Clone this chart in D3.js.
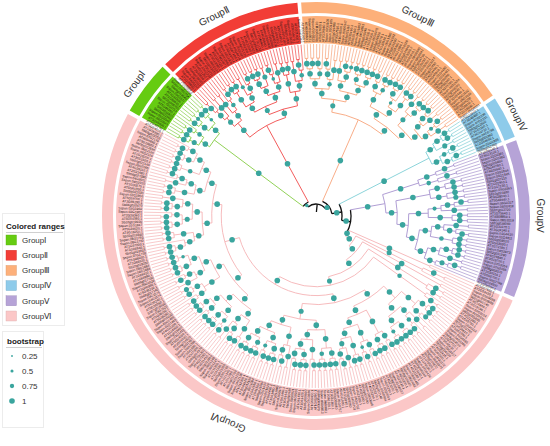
<!DOCTYPE html>
<html>
<head>
<meta charset="utf-8">
<script src="https://cdn.jsdelivr.net/npm/d3@7"></script>
<style>
  body { margin: 0; background: #fff; }
  svg { display: block; font-family: "Liberation Sans", Arial, sans-serif; }
</style>
</head>
<body>
<div id="chart"></div>
<script>
// ---- groups ----
const groupKeys = ["I", "II", "III", "IV", "V", "VI"];
const groupLabels = ["GroupⅠ", "GroupⅡ", "GroupⅢ", "GroupⅣ", "GroupⅤ", "GroupⅥ"];
const rangeColors = ["#66cc11", "#f23d36", "#fdb07a", "#8ecbea", "#b6a3d7", "#fbc7c7"];
const branchColors = ["#84cc44", "#f04a4a", "#f7a47a", "#7fcfd6", "#a793cf", "#f5b3b5"];
const labelAngles = [-54, -27, 27, 63, 90, 203];
const crownRadii = [127, 103, 105, 127, 70, 36];
const bootstrapTicks = [0.25, 0.5, 0.75, 1];

// ---- topology (Newick, "*" = next leaf name, internal label = bootstrap) ----
const backboneTree = "((I,II)0.6,(III,(IV,(V,VI)1)1)0.9)";

const groupITree = "((((*,*)1,(*,*)1)0.9,((*,*)1,*)0.8)1,(((*,*)1,(*,*)0.7)1,((*,*)1,(*,*)1)0.6)1)1";
const groupIITree = "(((((*,*)1,*)1,(*,*)1)0.9,((*,*)1,(*,(*,*)1)0.8)1)1,(((((*,*)1,(*,*)1)1,((*,*)0.7,(*,(*,*)1)1)1)1," +
  "((((*,*)1,(*,*)1)1,(*,*)0.9)1,(((*,*)1,*)0.6,(*,*)1)1)1)0.9,(((*,*)1,(*,*)1)1,((*,*)1,((*,*)1,*)0.8)1)1)1)1";
const groupIIITree = "((((((*,*)1,(*,*)1)1,((*,*)1,*)0.9)1,(((*,*)1,*)1,(*,*)1)0.8)1," +
  "(((*,*)1,((*,*)1,(*,*)0.7)1)1,(((*,*)1,(*,*)1)0.9,((*,*)1,(*,*)1)1)1)1)0.9," +
  "(((((*,*)1,*)1,((*,*)1,(*,*)1)0.8)1,((((*,*)1,(*,*)1)1,*)0.6,((*,*)1,(*,*)1)1)1)1," +
  "(((*,*)1,((*,*)1,(*,*)1)1)0.9,((((*,*)1,*)1,(*,*)1)1,(((*,*)1,*)0.7,(*,*)1)1)1)1)1)1";
const groupIVTree = "((((*,*)1,(*,*)1)1,(*,*)0.9)1,(((*,*)1,*)0.8,((*,*)1,*)1)1)1";
const groupVTree = "((((*,*)1,*)1,((*,*)1,*)0.8)1,((((*,*)1,(*,*)1)1,((*,*)1,(*,*)0.9)1)1," +
  "(((((*,*)1,*)1,(*,*)1)0.7,((*,*)1,(*,*)1)1)1,((((*,*)1,(*,(*,*)1)1)1,((*,*)1,(*,*)1)0.8)1," +
  "((((*,*)1,(*,*)1)1,(*,*)1)1,(((*,*)1,*)0.9,*)1)1)1)1)1)1";

const vi1 = "((((*,*)1,(*,*)1)1,((*,*)0.9,*)1)1,(((*,*)1,(*,(*,*)1)0.8)1,(((*,*)1,(*,*)1)1,((*,*)1,(*,*)1)0.7)1)1)1";
const vi2 = "((((*,*)1,*)1,((*,*)1,(*,*)1)1)1,((((*,*)1,*)1,((*,*)1,*)0.6)1,(((*,*)1,(*,*)1)1,((*,*)1,((*,*)1,*)1)0.9)1)1)1";
const vi3 = "((((*,*)1,(*,*)1)1,((*,*)1,(*,*)1)0.8)1,(((*,*)1,*)1,(((*,*)1,(*,*)1)1,((*,*)1,*)1)1)1)1";
const vi4 = "(((*,*)1,((*,*)1,*)1)1,((((*,*)1,(*,*)1)1,((*,*)1,*)0.7)1,(((*,*)1,(*,*)1)0.9,((*,*)1,(*,*)1)1)1)1)1";
const vi5 = "(((*,(*,*)1)1,(((*,*)1,*)1,(*,*)1)1)1,((((*,*)1,*)0.8,((*,*)1,(*,*)1)1)1,(((*,*)1,*)1,((*,*)1,(*,*)1)1)1)1)1";
const vi6 = "((((*,*)1,*)1,((*,*)1,(*,*)0.9)1)1,(((*,*)1,((*,*)1,*)1)1,(((*,*)1,(*,*)1)1,((*,*)1,(*,*)1)0.6)1)1)1";
const vi7 = "(((((*,*)1,(*,*)1)1,*)1,((*,*)1,(*,*)1)1)1,((((*,*)1,(*,*)1)1,((*,*)1,*)1)0.9,(((*,*)1,(*,*)1)1,(*,*)1)1)1)1";
const vi8 = "((((*,*)1,(*,*)1)1,((*,*)1,(*,(*,*)1)1)1)1,(((*,*)1,(*,*)1)0.8,(((*,*)1,(*,*)1)1,((*,*)1,*)1)1)1)1";
const viCore = `(((${vi1},${vi2})1,(${vi3},${vi4})0.9)1,((${vi5},${vi6})1,(${vi7},${vi8})1)1)1`;
const groupVITree = `((*,*)1,(((*,*)1,*)0.9,((*,*)1,(((*,*)1,(*,*)1)1,((*,(*,*)1)0.8,${viCore})0.9)1)1)1)1`;

// ---- leaf labels ----
const groupILeaves = ("AT2G40740.1 AT3G56400.1 Sspon.01G0045 Sspon.01G0046 Sb03g021560 Sh03G11820 AT5G46350.1 " +
  "Sspon.02G0713 Sb02g008730 AT1G80840.1 AT4G31800.1 Sspon.05G1927 Sb09g003640 Sspon.07G0254 Sspon.07G0255").split(" ");
const groupIILeaves = ("AT1G18860.1 AT1G29860.1 Sspon.04G0112 Sspon.04G0113 Sb06g019020 AT2G30590.1 AT4G01250.1 " +
  "Sspon.03G2210 Sspon.03G2211 Sb01g043670 Sspon.08G1534 AT5G13080.1 AT2G23320.1 Sspon.06G0871 Sb10g002650 " +
  "Sspon.02G3306 AT3G01970.1 AT5G07100.1 Sspon.05G0419 Sspon.05G0420 Sb04g031370 AT1G62300.1 AT4G22070.1 " +
  "Sspon.01G5521 Sb07g025040 Sspon.07G1133 AT2G46400.1 AT4G26640.1 Sspon.03G0908 Sspon.03G0909 Sb02g040370 " +
  "AT1G69310.1 AT5G64810.1 Sspon.06G2187 Sb08g014900 Sspon.04G3025 AT3G04670.1 AT2G21900.1 Sspon.02G1450").split(" ");
const groupIIILeaves = ("AT1G01140.1 AT4G30960.1 Sspon.01G0221 Sspon.01G0222 Sb03g001170 AT5G57630.1 AT2G26980.1 " +
  "Sspon.02G1108 Sspon.02G1109 Sb01g019480 AT3G17510.1 AT1G48260.1 Sspon.03G0347 Sb09g021110 AT5G35410.1 " +
  "AT5G25110.1 Sspon.04G1862 Sspon.04G1863 Sb06g030240 AT4G18700.1 AT3G23000.1 Sspon.05G0075 Sb02g036920 " +
  "AT1G30270.1 AT5G10930.1 Sspon.06G1390 Sspon.06G1391 Sb10g026190 AT2G38490.1 AT4G14580.1 Sspon.07G0628 " +
  "Sb04g024840 AT3G23000.2 AT5G01810.1 Sspon.08G0940 Sspon.08G0941 Sb07g004790 AT1G29230.1 AT2G25090.1 " +
  "Sspon.01G3317 Sb05g022450 AT4G24400.1 AT5G45810.1 Sspon.02G4480 Sspon.02G4481 Sb08g020050 AT5G58380.1 " +
  "AT3G01090.1 Sspon.03G2654 Sb01g008290 AT5G39440.1 AT1G09440.1 Sspon.05G3102 Sspon.05G3103 Sb03g039200 " +
  "AT4G38810.1 AT2G28930.1 Sspon.06G0551").split(" ");
const groupIVLeaves = ("AT5G20810.1 AT3G48480.1 Sspon.07G2230 Sspon.07G2231 Sb02g022820 AT1G43160.1 AT4G34710.1 " +
  "Sspon.04G0798 Sb06g001960 AT2G34650.1 Sspon.01G1905 Sb09g012460").split(" ");
const groupVLeaves = ("AT1G56140.1 AT3G13110.1 Sspon.02G0361 Sspon.02G0362 Sb04g005650 AT5G49780.1 AT4G20940.1 " +
  "Sspon.03G1844 Sspon.03G1845 Sb01g037110 AT2G01950.1 AT1G17230.1 Sspon.05G2261 Sb10g021690 AT3G28040.1 " +
  "AT5G48940.1 Sspon.06G0317 Sspon.06G0318 Sb07g012720 AT1G75640.1 AT4G08850.1 Sspon.08G2019 Sb03g028040 " +
  "AT2G33170.1 AT3G24240.1 Sspon.01G4410 Sspon.01G4411 Sb05g008510 AT5G63930.1 AT1G72180.1 Sspon.04G2873 " +
  "Sb02g011290 AT4G26540.1 AT3G19700.1 Sspon.07G3054 Sspon.07G3055 Sb08g003370 AT1G34110.1 AT5G65700.1 " +
  "Sspon.02G2798 Sb06g024500 AT1G08590.1").split(" ");
const groupVILeaves = ("AT1G07650.1 AT1G53430.1 Sspon.01G0098 Sspon.01G0099 Sb01g001240 AT3G14840.1 AT2G19190.1 " +
  "Sspon.02G0154 Sspon.02G0155 Sb02g001830 AT4G21380.1 AT1G65790.1 Sspon.03G0212 Sb03g002760 AT5G18610.1 " +
  "AT1G61380.1 Sspon.04G0265 Sspon.04G0266 Sb04g003510 AT2G37710.1 AT3G45430.1 Sspon.05G0317 Sb05g004100 " +
  "AT4G02410.1 AT5G60300.1 Sspon.06G0372 Sspon.06G0373 Sb06g004870 AT1G70520.1 AT1G70530.1 Sspon.07G0426 " +
  "Sb07g005310 AT4G23140.1 AT4G23180.1 Sspon.08G0481 Sspon.08G0482 Sb08g006020 AT4G23200.1 AT4G23210.1 " +
  "Sspon.01G0537 Sb09g006580 AT4G23230.1 AT4G23250.1 Sspon.02G0593 Sspon.02G0594 Sb10g007140 AT4G23270.1 " +
  "AT4G23290.1 Sspon.03G0648 Sb01g007690 AT4G23300.1 AT4G23310.1 Sspon.04G0702 Sspon.04G0703 Sb02g008250 " +
  "AT4G11890.1 AT4G11900.1 Sspon.05G0757 Sb03g008810 AT1G61360.1 AT1G61370.1 Sspon.06G0811 Sspon.06G0812 " +
  "Sb04g009370 AT1G61390.1 AT1G61400.1 Sspon.07G0866 Sb05g009920 AT1G61420.1 AT1G61430.1 Sspon.08G0920 " +
  "Sspon.08G0921 Sb06g010480 AT1G61440.1 AT1G61460.1 Sspon.01G0975 Sb07g011040 AT1G61480.1 AT1G61490.1 " +
  "Sspon.02G1029 Sspon.02G1030 Sb08g011590 AT1G61500.1 AT1G61550.1 Sspon.03G1084 Sb09g012150 AT1G61610.1 " +
  "AT1G11300.1 Sspon.04G1138 Sspon.04G1139 Sb10g012700 AT1G11280.1 AT1G11340.1 Sspon.05G1193 Sb01g013260 " +
  "AT1G11330.1 AT1G11350.1 Sspon.06G1247 Sspon.06G1248 Sb02g013810 AT1G11410.1 AT4G27290.1 Sspon.07G1302 " +
  "Sb03g014370 AT4G27300.1 AT2G41890.1 Sspon.08G1356 Sspon.08G1357 Sb04g014920 AT3G16030.1 AT5G24080.1 " +
  "Sspon.01G1411 Sb05g015480 AT1G34300.1 AT4G32300.1 Sspon.02G1465 Sspon.02G1466 Sb06g016030 AT5G38280.1 " +
  "AT5G38250.1 Sspon.03G1520 Sb07g016590 AT5G38260.1 AT5G38240.1 Sspon.04G1574 Sspon.04G1575 Sb08g017140 " +
  "AT5G38210.1 AT1G66980.1 Sspon.05G1629 Sb09g017700 AT1G66880.1 AT1G66910.1 Sspon.06G1683 Sspon.06G1684 " +
  "Sb10g018250 AT1G66920.1 AT1G66930.1 Sspon.07G1738 Sb01g018810 AT1G66940.1 AT1G67000.1 Sspon.08G1792 " +
  "Sspon.08G1793 Sb02g019360 AT4G18250.1 AT5G39020.1 Sspon.01G1847 Sb03g019920 AT5G54380.1 AT2G39360.1 " +
  "Sspon.02G1901 Sspon.02G1902 Sb04g020470 AT3G46290.1 AT5G59700.1 Sspon.03G1956 Sb05g021030 AT5G61350.1 " +
  "AT1G30570.1 Sspon.04G2010 Sspon.04G2011 Sb06g021580 AT2G21480.1 AT4G39110.1 Sspon.05G2065 Sb07g022140 " +
  "AT3G51550.1 AT2G23200.1 Sspon.06G2119 Sspon.06G2120 Sb08g022690 AT5G28680.1 AT3G04690.1 Sspon.07G2174 " +
  "Sb09g023250 AT1G28390.1 AT5G24010.1").split(" ");

const groupTrees = [groupITree, groupIITree, groupIIITree, groupIVTree, groupVTree, groupVITree];
const groupLeaves = [groupILeaves, groupIILeaves, groupIIILeaves, groupIVLeaves, groupVLeaves, groupVILeaves];

// ---- layout constants ----
const width = 550, height = 446;
const cx = 316, cy = 216;
const tipR = 172, labelOuterR = 200, bandInnerR = 203, bandOuterR = 214, groupLabelR = 221;
const startAngle = -61;
const backboneRadii = [12, 16, 26, 35];

function parseNewick(str, names, subtrees) {
  let i = 0, k = 0;
  function node() {
    let n = null;
    if (str[i] === "(") {
      i++;
      n = { children: [node()] };
      while (str[i] === ",") { i++; n.children.push(node()); }
      i++;
    }
    let tok = "";
    while (i < str.length && !",();".includes(str[i])) tok += str[i++];
    if (n) { if (tok) n.boot = +tok; return n; }
    if (tok === "*") return { name: names[k++] || "" };
    return subtrees[tok];
  }
  const t = node();
  if (names && k !== names.length) console.warn("leaf count", k, names.length);
  return t;
}

function markGroup(n, g) {
  n.g = g;
  (n.children || []).forEach(c => markGroup(c, g));
}

const subtrees = {};
groupKeys.forEach((key, gi) => {
  const t = parseNewick(groupTrees[gi], groupLeaves[gi], {});
  markGroup(t, gi);
  t.crown = true;
  subtrees[key] = t;
});
const treeData = parseNewick(backboneTree, [], subtrees);

const root = d3.hierarchy(treeData);
d3.cluster().size([360, 1]).separation(() => 1)(root);

// crown height / depth per group
const crownHeight = {}, crownDepth = {};
root.each(n => { if (n.data.crown) { crownHeight[n.data.g] = n.height; crownDepth[n.data.g] = n.depth; } });

// radius: blend of distance-from-tips and depth-from-crown, so nodes spread out like a phylogram
root.each(n => {
  n.a = startAngle + n.x;
  if (n.data.g == null) {
    n.r = backboneRadii[n.depth];
  } else if (!n.children) {
    n.r = tipR;
  } else {
    const gi = n.data.g, cr = crownRadii[gi];
    const d = n.depth - crownDepth[gi];
    const fh = 1 - Math.pow(n.height / crownHeight[gi], 0.8);
    const fd = d / (d + n.height);
    n.r = cr + (tipR - cr) * (0.45 * fh + 0.55 * fd) * 0.97;
  }
});

function pt(r, a) {
  const t = a * Math.PI / 180;
  return [r * Math.sin(t), -r * Math.cos(t)];
}
const rad = d => d * Math.PI / 180;
const dotR = d3.scaleLinear().domain([0.25, 1]).range([0.9, 2.8]);
const dotColor = "#3aa59e";

const svg = d3.select("#chart").append("svg")
  .attr("width", width).attr("height", height)
  .attr("viewBox", `0 0 ${width} ${height}`);

const g = svg.append("g").attr("transform", `translate(${cx},${cy})`);

// ---- colored ranges ----
const leaves = root.leaves();
const step = 360 / leaves.length;
const ranges = groupKeys.map((k, gi) => {
  const ls = leaves.filter(l => l.data.g === gi);
  return { gi, a0: d3.min(ls, l => l.a) - step / 2 + 0.5, a1: d3.max(ls, l => l.a) + step / 2 - 0.5 };
});
const arcGen = d3.arc();
g.append("g").selectAll("path.lab").data(ranges).join("path")
  .attr("d", d => arcGen({ innerRadius: tipR + 1, outerRadius: labelOuterR, startAngle: rad(d.a0), endAngle: rad(d.a1) }))
  .attr("fill", d => rangeColors[d.gi]);
g.append("g").selectAll("path.band").data(ranges).join("path")
  .attr("d", d => arcGen({ innerRadius: bandInnerR, outerRadius: bandOuterR, startAngle: rad(d.a0), endAngle: rad(d.a1) }))
  .attr("fill", d => rangeColors[d.gi]);

// ---- branches ----
const links = g.append("g").attr("fill", "none").attr("stroke-width", 0.9);
const colorOf = n => n.data.g == null ? "#111" : branchColors[n.data.g];
root.each(n => {
  if (!n.children) return;
  const angs = n.children.map(c => c.a);
  const a0 = d3.min(angs), a1 = d3.max(angs);
  const p0 = pt(n.r, a0), p1 = pt(n.r, a1);
  links.append("path")
    .attr("d", `M${p0}A${n.r},${n.r} 0 ${a1 - a0 > 180 ? 1 : 0} 1 ${p1}`)
    .attr("stroke", colorOf(n))
    .attr("stroke-width", n.data.g == null ? 1.3 : 0.9);
  n.children.forEach(c => {
    links.append("path")
      .attr("d", `M${pt(n.r, c.a)}L${pt(c.r, c.a)}`)
      .attr("stroke", colorOf(c))
      .attr("stroke-width", c.children ? (c.data.g == null ? 1.3 : 0.9) : 0.7);
  });
});
links.append("path")
  .attr("d", `M${pt(4, root.a)}L${pt(root.r, root.a)}`)
  .attr("stroke", "#111").attr("stroke-width", 1.3);

// ---- bootstrap symbols ----
const boots = root.descendants().filter(n => n.parent && n.children && n.data.boot != null);
g.append("g").selectAll("circle").data(boots).join("circle")
  .attr("transform", d => `translate(${pt((d.parent.r + d.r) / 2, d.a)})`)
  .attr("r", d => dotR(d.data.boot))
  .attr("fill", dotColor);

// ---- leaf labels ----
g.append("g").selectAll("text").data(leaves).join("text")
  .attr("transform", d => {
    const a = ((d.a % 360) + 360) % 360;
    return `rotate(${d.a - 90}) translate(${tipR + 2},0)${a > 180 ? " rotate(180)" : ""}`;
  })
  .attr("text-anchor", d => (((d.a % 360) + 360) % 360) > 180 ? "end" : "start")
  .attr("dy", "0.35em")
  .attr("font-size", 3.3)
  .attr("fill", "#1a1414")
  .text(d => d.data.name);

// ---- group labels ----
g.append("g").selectAll("text").data(groupLabels).join("text")
  .attr("transform", (d, i) => `rotate(${labelAngles[i]}) translate(0,${-groupLabelR})`)
  .attr("text-anchor", "middle")
  .attr("font-size", 10)
  .attr("fill", "#333")
  .text(d => d);

// ---- legends ----
const leg = svg.append("g");
leg.append("rect").attr("x", 2.5).attr("y", 213.5).attr("width", 62).attr("height", 112)
  .attr("fill", "#fff").attr("stroke", "#ececec");
leg.append("text").attr("x", 6).attr("y", 228.5).attr("font-size", 8).attr("font-weight", "bold")
  .attr("fill", "#222").text("Colored ranges");
leg.append("line").attr("x1", 6).attr("x2", 63).attr("y1", 232.5).attr("y2", 232.5).attr("stroke", "#bbb").attr("stroke-width", 0.7);
const items = leg.selectAll("g.item").data(groupLabels).join("g")
  .attr("transform", (d, i) => `translate(6,${240 + i * 15.2})`);
items.append("rect").attr("x", 0).attr("y", -5).attr("width", 10.5).attr("height", 10)
  .attr("fill", (d, i) => rangeColors[i])
  .attr("stroke", (d, i) => d3.color(rangeColors[i]).darker(0.4)).attr("stroke-width", 0.4);
items.append("text").attr("x", 16).attr("dy", "0.35em").attr("font-size", 8).attr("fill", "#333").text(d => d);

leg.append("rect").attr("x", 2.5).attr("y", 331.5).attr("width", 41).attr("height", 96)
  .attr("fill", "#fff").attr("stroke", "#ececec");
leg.append("text").attr("x", 7).attr("y", 343.5).attr("font-size", 8).attr("font-weight", "bold")
  .attr("fill", "#222").text("bootstrap");
leg.append("line").attr("x1", 6).attr("x2", 42).attr("y1", 347.5).attr("y2", 347.5).attr("stroke", "#bbb").attr("stroke-width", 0.7);
const bItems = leg.selectAll("g.bitem").data(bootstrapTicks).join("g")
  .attr("transform", (d, i) => `translate(12,${356 + i * 15})`);
bItems.append("circle").attr("r", d => dotR(d)).attr("fill", dotColor);
bItems.append("text").attr("x", 10).attr("dy", "0.35em").attr("font-size", 8).attr("fill", "#333").text(d => d);
</script>
</body>
</html>
